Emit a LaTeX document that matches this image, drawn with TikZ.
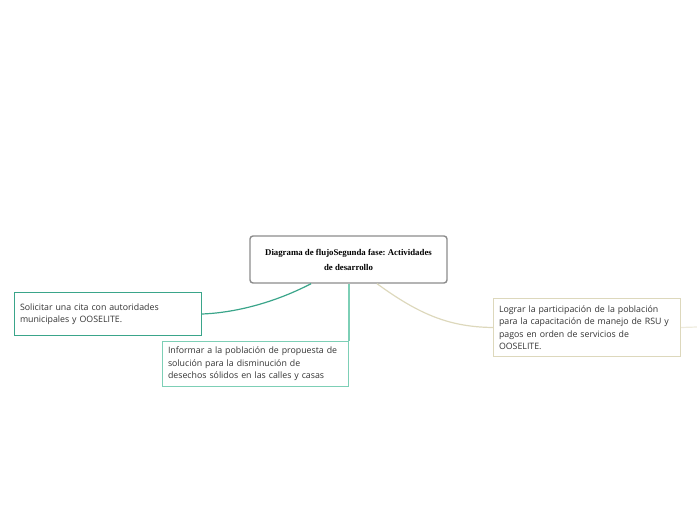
\documentclass[tikz,border=0pt]{standalone}
\usepackage{fontspec}
\setmainfont{Open Sans}
\newfontfamily\titlefont{Liberation Serif}
\frenchspacing
\definecolor{cgray}{HTML}{8C8C8C}
\definecolor{cteal}{HTML}{3AA58A}
\definecolor{clteal}{HTML}{7DCFB6}
\definecolor{cbeige}{HTML}{DDD8BC}
\definecolor{ctext}{HTML}{333333}
\begin{document}
\begin{tikzpicture}[x=1pt,y=-1pt,
  central/.style={draw=cgray,line width=1.4pt,rounded corners=3pt,fill=white,minimum width=197pt,minimum height=47pt,inner sep=0pt,align=center,font=\titlefont\bfseries\fontsize{8.8}{15}\selectfont},
  topic/.style={draw=#1,line width=1pt,fill=white,anchor=north west,inner xsep=5.5pt,inner ysep=0pt,align=left,text=ctext,font=\fontsize{8.8}{12.5}\selectfont},
  conn/.style={draw=#1,line width=1.2pt}]
\useasboundingbox (0,0) rectangle (697,520);
\node[central] (c) at (348.5,259.5) {Diagrama de flujoSegunda fase: Actividades\\de desarrollo};
\node[topic=cteal,minimum width=187pt,minimum height=43pt,text width=176pt] (l) at (14,292) {\rule{0pt}{3pt}Solicitar una cita con autoridades\\municipales y OOSELITE.};
\node[topic=clteal,minimum width=186pt,minimum height=45pt,text width=175pt] (m) at (162,341) {\rule{0pt}{3pt}Informar a la población de propuesta de\\solución para la disminución de\\desechos sólidos en las calles y casas};
\node[topic=cbeige,minimum width=187pt,minimum height=58pt,text width=176pt] (r) at (493,298) {Lograr la participación de la población\\para la capacitación de manejo de RSU y\\pagos en orden de servicios de\\OOSELITE.};
\coordinate (rend) at (697,327);
\draw[conn=cteal] (c.south -| 311,0) .. controls (270,305) and (230,313) .. (l.east);
\draw[conn=clteal] (c.south -| m.north east) -- (m.north east);
\draw[conn=cbeige] (c.south -| 377,0) .. controls (420,315) and (450,327) .. (r.west);
\draw[conn=cbeige!50] (r.east) -- (rend);
\end{tikzpicture}
\end{document}
